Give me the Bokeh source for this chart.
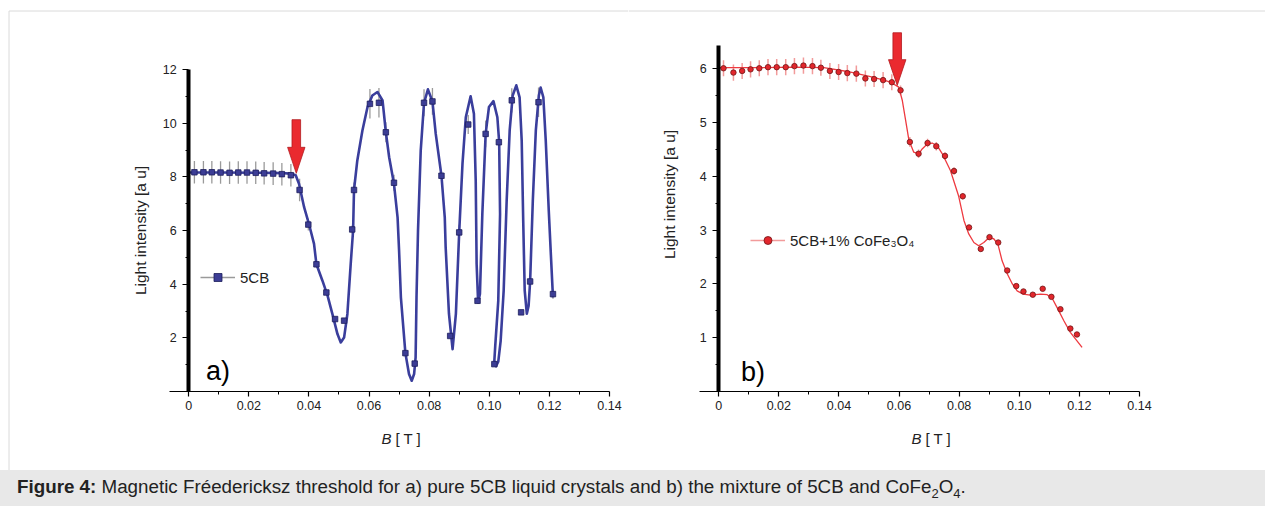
import math
from bokeh.plotting import figure
from bokeh.models import (FixedTicker, CustomJSTickFormatter, Label, Legend,
                          LegendItem, Arrow, Div)
from bokeh.layouts import row, column
from bokeh.embed import file_html
from bokeh.resources import INLINE

FONT = "Liberation Sans"
TXT = "#222222"

# ---------------- data ----------------
# a) pure 5CB : measured points
b_5cb = [0.0019, 0.0049, 0.0077, 0.0106, 0.0136, 0.0165, 0.0194, 0.0223, 0.0251, 0.0281,
         0.0310, 0.0340, 0.0369, 0.0398, 0.0425, 0.0458, 0.0487, 0.0517, 0.0544, 0.0550,
         0.0603, 0.0633, 0.0656, 0.0683, 0.0721, 0.0752, 0.0783, 0.0811, 0.0841, 0.0870,
         0.0900, 0.0930, 0.0961, 0.0988, 0.1017, 0.1032, 0.1075, 0.1106, 0.1136, 0.1164,
         0.1212]
i_5cb = [8.17, 8.17, 8.17, 8.16, 8.15, 8.16, 8.16, 8.15, 8.13, 8.12,
         8.10, 8.06, 7.51, 6.22, 4.74, 3.69, 2.70, 2.64, 6.04, 7.51,
         10.72, 10.76, 9.66, 7.78, 1.43, 1.04, 10.76, 10.81, 8.04, 2.07,
         5.93, 9.95, 3.38, 9.60, 1.02, 9.29, 10.85, 2.95, 4.10, 10.78,
         3.63]
err_5cb = [0.42, 0.42, 0.42, 0.42, 0.42, 0.42, 0.42, 0.42, 0.42, 0.42,
           0.42, 0.42, 0.42, 0.22, 0.12, 0.08, 0.08, 0.08, 0.15, 0.28,
           0.55, 0.55, 0.37, 0.30, 0.06, 0.06, 0.50, 0.50, 0.12, 0.06,
           0.28, 0.35, 0.08, 0.50, 0.06, 0.15, 0.45, 0.08, 0.22, 0.55,
           0.17]
# a) fitted curve (traced)
fit_b_5cb = [0.0000, 0.0107, 0.0240, 0.0306, 0.0339, 0.0356, 0.0367, 0.0384, 0.0400, 0.0417,
             0.0425, 0.0445, 0.0462, 0.0478, 0.0495, 0.0506, 0.0517, 0.0528, 0.0539, 0.0547,
             0.0550, 0.0561, 0.0578, 0.0595, 0.0611, 0.0628, 0.0645, 0.0656, 0.0667, 0.0683,
             0.0695, 0.0700, 0.0706, 0.0721, 0.0733, 0.0742, 0.0750, 0.0755, 0.0758, 0.0763,
             0.0772, 0.0783, 0.0796, 0.0811, 0.0822, 0.0841, 0.0852, 0.0855, 0.0866, 0.0878,
             0.0889, 0.0900, 0.0911, 0.0922, 0.0938, 0.0949, 0.0955, 0.0958, 0.0963, 0.0969,
             0.0977, 0.0988, 0.0999, 0.1014, 0.1027, 0.1033, 0.1036, 0.1030, 0.1020, 0.1017,
             0.1022, 0.1030, 0.1038, 0.1048, 0.1058, 0.1068, 0.1078, 0.1090, 0.1101, 0.1108,
             0.1113, 0.1118, 0.1125, 0.1131, 0.1136, 0.1145, 0.1155, 0.1165, 0.1171, 0.1180,
             0.1188, 0.1198, 0.1206, 0.1212]
fit_i_5cb = [8.16, 8.16, 8.15, 8.14, 8.12, 8.06, 7.74, 6.87, 6.25, 5.50,
             4.74, 4.13, 3.57, 2.89, 2.14, 1.83, 2.01, 2.89, 4.75, 6.00,
             7.51, 8.61, 9.73, 10.60, 11.03, 11.16, 10.85, 9.66, 8.73, 7.74,
             6.49, 5.25, 3.51, 1.43, 0.65, 0.40, 0.65, 1.27, 3.51, 6.00,
             8.98, 10.76, 11.26, 10.81, 9.60, 8.04, 6.49, 5.37, 2.89, 1.58,
             2.89, 5.93, 8.49, 10.22, 11.00, 10.35, 7.86, 4.75, 3.32, 3.63,
             6.62, 9.60, 10.60, 10.82, 10.22, 9.29, 6.62, 3.38, 1.71, 1.15,
             0.94, 1.11, 1.89, 3.76, 7.12, 9.73, 11.03, 11.41, 10.96, 9.35,
             6.37, 3.76, 2.90, 3.20, 4.10, 7.12, 9.73, 11.03, 11.33, 10.96,
             9.35, 6.75, 4.88, 3.51]

# b) 5CB + 1% CoFe3O4 : measured points
b_mix = [0.0016, 0.0049, 0.0078, 0.0106, 0.0135, 0.0164, 0.0193, 0.0223, 0.0252, 0.0282,
         0.0312, 0.0340, 0.0370, 0.0399, 0.0428, 0.0458, 0.0488, 0.0517, 0.0547, 0.0576,
         0.0605, 0.0636, 0.0665, 0.0695, 0.0724, 0.0753, 0.0783, 0.0812, 0.0833, 0.0872,
         0.0901, 0.0930, 0.0960, 0.0990, 0.1014, 0.1045, 0.1078, 0.1107, 0.1137, 0.1170,
         0.1192]
i_mix = [6.01, 5.93, 5.96, 5.99, 6.01, 6.03, 6.03, 6.03, 6.05, 6.06,
         6.05, 6.02, 5.96, 5.94, 5.92, 5.91, 5.82, 5.81, 5.79, 5.75,
         5.60, 4.64, 4.42, 4.62, 4.56, 4.38, 4.10, 3.63, 3.05, 2.65,
         2.87, 2.77, 2.25, 1.96, 1.86, 1.80, 1.91, 1.76, 1.53, 1.17,
         1.06]
err_mix = [0.15, 0.15, 0.15, 0.15, 0.15, 0.15, 0.15, 0.15, 0.15, 0.15,
           0.15, 0.15, 0.15, 0.15, 0.15, 0.15, 0.15, 0.15, 0.15, 0.15,
           0.09, 0.09, 0.08, 0.08, 0.08, 0.07, 0.07, 0.06, 0.05, 0.05,
           0.05, 0.04, 0.04, 0.04, 0.04, 0.04, 0.04, 0.04, 0.04, 0.04,
           0.04]
fit_b_mix = [0.0000, 0.0100, 0.0250, 0.0350, 0.0428, 0.0516, 0.0572, 0.0599, 0.0611, 0.0622,
             0.0633, 0.0649, 0.0666, 0.0677, 0.0694, 0.0710, 0.0727, 0.0744, 0.0771, 0.0798,
             0.0816, 0.0832, 0.0849, 0.0865, 0.0882, 0.0899, 0.0915, 0.0929, 0.0943, 0.0960,
             0.0977, 0.0993, 0.1013, 0.1037, 0.1071, 0.1093, 0.1110, 0.1126, 0.1148, 0.1170,
             0.1209]
fit_i_mix = [6.02, 6.02, 6.03, 6.02, 5.95, 5.84, 5.75, 5.66, 5.41, 5.04,
             4.67, 4.45, 4.42, 4.51, 4.60, 4.62, 4.57, 4.42, 4.11, 3.64,
             3.18, 2.93, 2.77, 2.71, 2.77, 2.86, 2.84, 2.74, 2.43, 2.19,
             2.00, 1.87, 1.81, 1.79, 1.81, 1.80, 1.73, 1.56, 1.32, 1.10,
             0.82]

# Freedericksz thresholds marked by arrows (B [T], tip intensity)
threshold_5cb = (0.0358, 8.13)
threshold_mix = (0.0594, 5.69)

# axis ticks
x_ticks = [0.0, 0.02, 0.04, 0.06, 0.08, 0.10, 0.12, 0.14]
x_minor_ticks = [0.01, 0.03, 0.05, 0.07, 0.09, 0.11, 0.13]
y_ticks_5cb = [2, 4, 6, 8, 10, 12]
y_minor_5cb = [1, 3, 5, 7, 9, 11]
y_ticks_mix = [1, 2, 3, 4, 5, 6]
y_minor_mix = [0.5, 1.5, 2.5, 3.5, 4.5, 5.5]

legend_5cb = "5CB"
legend_mix = "5CB+1% CoFe\u2083O\u2084"

# ---------------- layout geometry (page pixels) ----------------
PAGE_W, PAGE_H = 1265, 506
PLOT_H = 470                 # caption strip below
SPLIT = 628                  # left canvas | right canvas
X_AXIS_BOUNDS = (-0.0064, 0.14)
SX = 440 / (X_AXIS_BOUNDS[1] - X_AXIS_BOUNDS[0])   # px per tesla
Y0_PAGE = 391                # page y of intensity 0


class Panel:
    def __init__(self, left, right, x0_page, sy, y_bounds, yt, ymt):
        self.left, self.x0, self.sy = left, x0_page, sy
        w = right - left
        xr = ((left - x0_page) / SX, (right - x0_page) / SX)
        yr = ((Y0_PAGE - PLOT_H) / sy, Y0_PAGE / sy)
        p = figure(width=w, height=PLOT_H, x_range=xr, y_range=yr,
                   output_backend="svg", toolbar_location=None,
                   min_border_left=0, min_border_right=0, min_border_top=0,
                   min_border_bottom=0)
        p.outline_line_color = None
        p.grid.visible = False
        p.background_fill_color = "white"
        p.border_fill_color = "white"

        xa = p.xaxis[0]
        xa.fixed_location = 0
        xa.bounds = X_AXIS_BOUNDS
        xa.ticker = FixedTicker(ticks=x_ticks, minor_ticks=x_minor_ticks)
        xa.formatter = CustomJSTickFormatter(code="return tick == 0 ? '0' : tick.toFixed(2);")
        xa.axis_line_color = "black"
        xa.axis_line_width = 1.2
        xa.major_tick_out = 5
        xa.major_tick_in = 0
        xa.minor_tick_out = 3
        xa.minor_tick_in = 0
        xa.major_tick_line_color = "black"
        xa.minor_tick_line_color = "black"
        xa.major_tick_line_width = 1.2
        xa.major_label_text_font = FONT
        xa.major_label_text_font_size = "12.5px"
        xa.major_label_text_color = TXT
        xa.major_label_standoff = 4

        ya = p.yaxis[0]
        ya.fixed_location = 0
        ya.bounds = y_bounds
        ya.ticker = FixedTicker(ticks=yt, minor_ticks=ymt)
        ya.axis_line_color = "black"
        ya.axis_line_width = 4
        ya.major_tick_out = 6
        ya.major_tick_in = 0
        ya.minor_tick_out = 3
        ya.minor_tick_in = 0
        ya.major_tick_line_color = "black"
        ya.minor_tick_line_color = "black"
        ya.major_tick_line_width = 1.2
        ya.major_label_text_font = FONT
        ya.major_label_text_font_size = "12.5px"
        ya.major_label_text_color = TXT
        ya.major_label_standoff = 6
        self.p = p

    def xy(self, px, py):
        """page pixel -> data coordinates (decorations only)"""
        return (px - self.x0) / SX, (Y0_PAGE - py) / self.sy

    def arrow(self, tip, y_head, y_top):
        xc, y_tip = tip
        sw, hw = 4.3 / SX, 8.7 / SX
        xs = [xc - sw, xc + sw, xc + sw, xc + hw, xc, xc - hw, xc - sw]
        ys = [y_top, y_top, y_head, y_head, y_tip, y_head, y_head]
        self.p.patch(xs, ys, fill_color="#ea2a2f", line_color="#b3191e", line_width=0.8)

    def texts(self, ylab_page, letter, letter_page, b_page):
        p = self.p
        lx, ly = self.xy(*ylab_page)
        p.add_layout(Label(x=lx, y=ly, text="Light intensity [a u]", angle=math.pi / 2,
                           text_align="center", text_baseline="middle", text_font=FONT,
                           text_font_size="15.5px", text_color=TXT))
        bx, by = self.xy(b_page, 438)
        p.add_layout(Label(x=bx, y=by, text="B", text_align="left", text_baseline="middle",
                           text_font=FONT, text_font_style="italic", text_font_size="15px",
                           text_color=TXT))
        tx, _ = self.xy(b_page + 14, 438)
        p.add_layout(Label(x=tx, y=by, text="[ T ]", text_align="left", text_baseline="middle",
                           text_font=FONT, text_font_size="15px", text_color=TXT))
        ax, ay = self.xy(*letter_page)
        p.add_layout(Label(x=ax, y=ay, text=letter, text_align="left",
                           text_baseline="alphabetic", text_font=FONT, text_font_size="27px",
                           text_color="black"))

    def legend(self, label, renderers, loc):
        leg = Legend(items=[LegendItem(label=label, renderers=renderers)], location=loc,
                     border_line_color=None, background_fill_alpha=0, padding=0, margin=0,
                     spacing=0, glyph_width=35, glyph_height=20, label_height=20,
                     label_standoff=5, label_text_font=FONT, label_text_font_size="15px",
                     label_text_color=TXT)
        self.p.add_layout(leg)

    def borders(self, x_from, x_to, left_edge):
        col = "#dadada"
        x0, ytop = self.xy(x_from, 10.5)
        x1, _ = self.xy(x_to, 10.5)
        self.p.add_layout(Arrow(end=None, x_start=x0, y_start=ytop, x_end=x1, y_end=ytop,
                                line_color=col, line_width=1))
        if left_edge:
            _, ybot = self.xy(0, PLOT_H)
            self.p.add_layout(Arrow(end=None, x_start=x0, y_start=ytop, x_end=x0, y_end=ybot,
                                    line_color=col, line_width=1))


# ---------------- panel a) ----------------
A = Panel(0, SPLIT, 188.2, 322 / 12, (0, 12), y_ticks_5cb, y_minor_5cb)
p1 = A.p
eb1 = p1.segment(x0=b_5cb, y0=[v - e for v, e in zip(i_5cb, err_5cb)],
                 x1=b_5cb, y1=[v + e for v, e in zip(i_5cb, err_5cb)],
                 line_color="#9a9a9a", line_width=1.3)
p1.line(fit_b_5cb, fit_i_5cb, line_color="#3a3e9c", line_width=2.6, line_join="round")
sc1 = p1.scatter(b_5cb, i_5cb, marker="square", size=5.5, fill_color="#3c3d95",
                 line_color="#1d1e5c", line_width=0.8)
A.arrow(threshold_5cb, 9.10, 10.13)
A.legend(legend_5cb, [eb1, sc1], (200, PLOT_H - 287))
A.texts((140, 230), "a)", (205.5, 370), 381)
A.borders(8.5, SPLIT, True)

# ---------------- panel b) ----------------
B = Panel(SPLIT, PAGE_W, 718.2, (Y0_PAGE - 68.3) / 6, (0, 6.43), y_ticks_mix, y_minor_mix)
p2 = B.p
eb2 = p2.segment(x0=b_mix, y0=[v - e for v, e in zip(i_mix, err_mix)],
                 x1=b_mix, y1=[v + e for v, e in zip(i_mix, err_mix)],
                 line_color="#f29b9b", line_width=1.5)
p2.line(fit_b_mix, fit_i_mix, line_color="#ee3a40", line_width=1.3, line_join="round")
sc2 = p2.scatter(b_mix, i_mix, marker="circle", size=5.5, fill_color="#e2262c",
                 line_color="#6e1616", line_width=0.8)
B.arrow(threshold_mix, 6.17, 6.67)
B.legend(legend_mix, [eb2, sc2], (750 - SPLIT, PLOT_H - 250))
B.texts((669, 194), "b)", (740.5, 371.7), 911)
B.borders(SPLIT, PAGE_W, False)

# ---------------- caption ----------------
caption_html = (
    '<div style="box-sizing:border-box;width:1265px;height:36px;background:#e8e8e8;'
    'padding:6px 0 0 17px;font-family:\'Liberation Sans\',Arial,sans-serif;font-size:18.8px;'
    'color:#222;white-space:nowrap;line-height:22px;">'
    '<b>Figure 4:</b> Magnetic Fr\u00e9edericksz threshold for a) pure 5CB liquid crystals '
    'and b) the mixture of 5CB and CoFe<sub style="font-size:13px;line-height:0">2</sub>'
    'O<sub style="font-size:13px;line-height:0">4</sub>.</div>')
cap = Div(text=caption_html, width=PAGE_W, height=PAGE_H - PLOT_H, margin=0)

layout = column(row(p1, p2, spacing=0), cap, spacing=0)
open("out.html", "w").write(file_html(layout, INLINE, "Figure 4"))
